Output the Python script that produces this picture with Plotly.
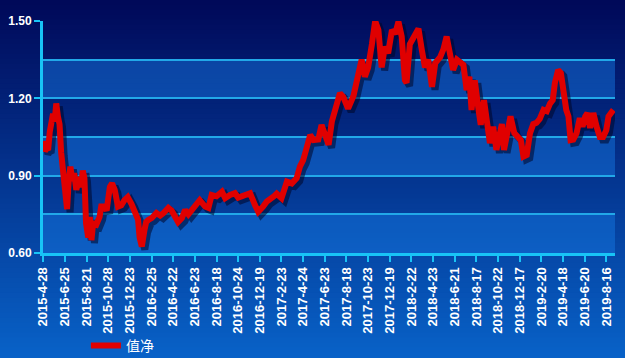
import plotly.graph_objects as go

# ---------------- data ----------------
# trading-day number (0 = 2015-4-28) and net value
day_index = [0, 3, 6, 9, 12, 15, 18, 21, 24, 27, 30, 33, 36, 40, 44, 47, 50, 54, 57, 61,
             67, 70, 73, 76, 79, 83, 86, 89, 92, 98, 104, 107, 113, 117, 123, 127, 132, 138, 144, 150,
             156, 163, 169, 175, 178, 182, 187, 190, 194, 200, 209, 216, 222, 231, 237, 243, 249, 256, 262, 268,
             274, 280, 289, 299, 305, 311, 320, 330, 336, 345, 354, 360, 369, 382, 391, 397, 406, 413, 425, 431,
             440, 450, 459, 468, 474, 480, 487, 493, 499, 508, 514, 520, 527, 533, 539, 542, 548, 554, 563, 573,
             579, 585, 588, 594, 600, 607, 613, 619, 625, 631, 637, 644, 650, 656, 662, 668, 671, 677, 687, 693,
             699, 705, 711, 718, 724, 733, 739, 745, 751, 757, 764, 770, 776, 782, 787, 791, 797, 804, 808, 814,
             819, 825, 831, 837, 842, 847, 851, 857, 863, 870, 876, 882, 887, 893, 899, 905, 911, 917, 924, 930,
             936, 941, 945, 951, 956, 961, 966, 970, 974, 979, 985, 991, 996, 1001, 1005, 1010, 1016, 1022, 1028, 1034,
             1040, 1044, 1050, 1053]
nav = [1.035, 0.995, 1.005, 1.00, 1.07, 1.12, 1.14, 1.11, 1.18, 1.13, 1.10, 0.99, 0.93, 0.845, 0.77, 0.88, 0.935, 0.88, 0.91, 0.845,
       0.895, 0.855, 0.92, 0.89, 0.716, 0.66, 0.74, 0.65, 0.715, 0.71, 0.74, 0.78, 0.78, 0.765, 0.856, 0.87, 0.845, 0.78, 0.785, 0.805,
       0.817, 0.79, 0.755, 0.73, 0.66, 0.625, 0.69, 0.72, 0.728, 0.735, 0.755, 0.745, 0.755, 0.775, 0.765, 0.735, 0.72, 0.735, 0.767, 0.75,
       0.765, 0.786, 0.805, 0.78, 0.775, 0.825, 0.82, 0.838, 0.813, 0.825, 0.832, 0.815, 0.82, 0.832, 0.786, 0.76, 0.78, 0.80, 0.818, 0.83,
       0.813, 0.877, 0.87, 0.89, 0.935, 0.96, 1.012, 1.058, 1.038, 1.04, 1.097, 1.065, 1.02, 1.11, 1.155, 1.18, 1.22, 1.206, 1.16, 1.21,
       1.27, 1.33, 1.35, 1.284, 1.32, 1.41, 1.50, 1.465, 1.32, 1.40, 1.375, 1.465, 1.45, 1.497, 1.44, 1.27, 1.26, 1.41, 1.45, 1.47,
       1.39, 1.32, 1.35, 1.245, 1.337, 1.36, 1.39, 1.44, 1.375, 1.31, 1.35, 1.337, 1.33, 1.232, 1.284, 1.155, 1.27, 1.155, 1.097, 1.193,
       1.115, 1.026, 1.09, 1.00, 1.05, 1.10, 1.00, 1.06, 1.13, 1.065, 1.05, 1.038, 0.974, 0.98, 1.065, 1.10, 1.105, 1.12, 1.155, 1.15,
       1.18, 1.193, 1.26, 1.31, 1.298, 1.22, 1.155, 1.13, 1.038, 1.04, 1.065, 1.123, 1.09, 1.13, 1.143, 1.085, 1.143, 1.09, 1.05, 1.05,
       1.077, 1.13, 1.148, 1.155]

tick_labels = ["2015-4-28", "2015-6-25", "2015-8-21", "2015-10-28", "2015-12-23", "2016-2-25",
               "2016-4-22", "2016-6-23", "2016-8-18", "2016-10-24", "2016-12-19", "2017-2-23",
               "2017-4-24", "2017-6-23", "2017-8-18", "2017-10-23", "2017-12-19", "2018-2-22",
               "2018-4-23", "2018-6-21", "2018-8-17", "2018-10-22", "2018-12-17", "2019-2-20",
               "2019-4-18", "2019-6-20", "2019-8-16"]
tick_step = 40  # trading days between labelled ticks
y_tick_vals = [0.60, 0.90, 1.20, 1.50]
y_grid_minor = [0.75, 1.05, 1.35]
series_name = "值净"

# ---------------- styling ----------------
W, H = 625, 358
ML, MR, MT, MB = 43, 10, 21, 105
PW, PH = W - ML - MR, H - MT - MB
X_RANGE = [-0.5, 1056.0]
Y_RANGE = [0.60, 1.50]
AXIS_C = "#18c4f6"
GRID_C = "#22a8e8"
FONT = "Arial, Liberation Sans, sans-serif"

# shadow offset (px) -> data units
sx, sy = 3.0, 3.0
dx = sx * (X_RANGE[1] - X_RANGE[0]) / PW
dy = sy * (Y_RANGE[1] - Y_RANGE[0]) / PH

fig = go.Figure()
fig.add_trace(go.Scatter(x=day_index, y=nav, mode="lines", xaxis="x", yaxis="y",
                         line=dict(color="rgba(0,5,40,0.55)", width=7),
                         showlegend=False, hoverinfo="skip"))
fig.add_trace(go.Scatter(x=day_index, y=nav, mode="lines", xaxis="x2", yaxis="y2",
                         name=series_name, line=dict(color="#e00000", width=6)))

shapes = []
# background vertical gradient
top_c = (0, 8, 88)
bot_c = (8, 98, 200)
n = 72
y_top = 1 + MT / PH
y_bot = -MB / PH
for k in range(n):
    t = (k + 0.5) / n
    c = tuple(round(top_c[j] + (bot_c[j] - top_c[j]) * t) for j in range(3))
    ya = y_top - (y_top - y_bot) * k / n
    yb = y_top - (y_top - y_bot) * (k + 1) / n
    shapes.append(dict(type="rect", xref="paper", yref="paper", x0=-1, x1=2,
                       y0=yb - 0.003, y1=ya + 0.003, line=dict(width=0),
                       fillcolor="rgb(%d,%d,%d)" % c, layer="below"))
# lighter bands inside the plot area
for lo, hi in [(0.60, 0.75), (0.90, 1.05), (1.20, 1.35)]:
    shapes.append(dict(type="rect", xref="paper", yref="paper", x0=0, x1=1,
                       y0=(lo - Y_RANGE[0]) / (Y_RANGE[1] - Y_RANGE[0]),
                       y1=(hi - Y_RANGE[0]) / (Y_RANGE[1] - Y_RANGE[0]),
                       line=dict(width=0), fillcolor="rgba(20,120,225,0.48)", layer="below"))

fig.update_layout(
    width=W, height=H,
    margin=dict(l=ML, r=MR, t=MT, b=MB, autoexpand=False),
    paper_bgcolor="rgb(4,50,150)",
    plot_bgcolor="rgba(0,0,0,0)",
    shapes=shapes,
    xaxis=dict(range=[X_RANGE[0] - dx, X_RANGE[1] - dx], visible=False, fixedrange=True),
    yaxis=dict(range=[Y_RANGE[0] + dy, Y_RANGE[1] + dy], visible=False, fixedrange=True),
    xaxis2=dict(overlaying="x", anchor="y2", side="bottom", range=X_RANGE,
                automargin=False,
                tickmode="array",
                tickvals=[tick_step * k for k in range(len(tick_labels))],
                ticktext=tick_labels, tickangle=-90,
                ticks="outside", ticklen=6, tickwidth=2, tickcolor=AXIS_C,
                showline=True, linecolor=AXIS_C, linewidth=3,
                showgrid=False, zeroline=False,
                tickfont=dict(family=FONT, size=13, color="white", weight="bold")),
    yaxis2=dict(overlaying="y", anchor="x2", side="left", range=Y_RANGE,
                automargin=False,
                tickmode="array", tickvals=y_tick_vals,
                ticktext=["%.2f" % v for v in y_tick_vals],
                ticks="outside", ticklen=6, tickwidth=2, tickcolor=AXIS_C,
                showline=True, linecolor=AXIS_C, linewidth=3,
                showgrid=True, gridcolor=GRID_C, gridwidth=1.5, zeroline=False,
                minor=dict(tickmode="array", tickvals=y_grid_minor, showgrid=True,
                           gridcolor=GRID_C, gridwidth=1.5, ticks=""),
                tickfont=dict(family=FONT, size=12, color="white", weight="bold")),
    showlegend=True,
    legend=dict(orientation="h", x=0.075, y=-0.40, xanchor="left", yanchor="middle",
                bgcolor="rgba(0,0,0,0)",
                font=dict(family="Noto Sans CJK SC", size=14, color="white")),
)

fig.write_html("out.html")
